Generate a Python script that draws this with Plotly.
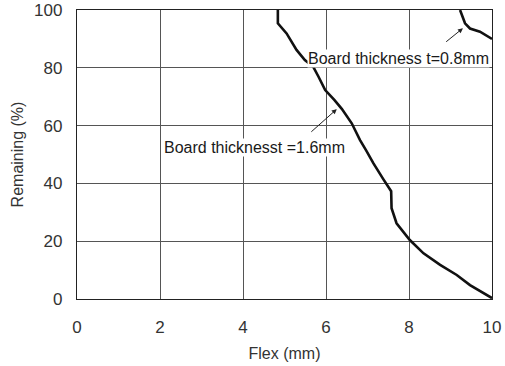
import plotly.graph_objects as go

# Board thickness 1.6 mm curve
flex_16 = [4.84, 4.84, 5.05, 5.29, 5.49, 5.69, 5.82, 5.98, 6.20, 6.38, 6.62, 6.82,
           6.96, 7.14, 7.38, 7.57, 7.58, 7.70, 8.02, 8.35, 8.75, 9.15, 9.47, 10.0]
remain_16 = [100, 95.4, 91.9, 86.2, 82.7, 80.4, 76.9, 72.3, 68.9, 65.8, 60.8, 55.0,
             51.6, 47.0, 41.5, 37.3, 31.4, 26.2, 20.4, 15.8, 11.8, 8.3, 4.8, 0.3]

# Board thickness 0.8 mm curve
flex_08 = [9.23, 9.35, 9.47, 9.71, 10.0]
remain_08 = [100, 95.4, 93.6, 92.5, 90.0]

x_ticks = [0, 2, 4, 6, 8, 10]
y_ticks = [0, 20, 40, 60, 80, 100]

label_16 = "Board thicknesst =1.6mm"
label_08 = "Board thickness t=0.8mm"

FONT = "Arial, Liberation Sans, Helvetica, sans-serif"

fig = go.Figure()
fig.add_trace(go.Scatter(x=flex_16, y=remain_16, mode="lines",
                         line=dict(color="#111111", width=2.6), showlegend=False))
fig.add_trace(go.Scatter(x=flex_08, y=remain_08, mode="lines",
                         line=dict(color="#111111", width=2.6), showlegend=False))

# text labels (white background hides grid lines)
fig.add_annotation(x=7.74, y=83.3, xref="x", yref="y", text=label_08, showarrow=False,
                   bgcolor="white", borderpad=0,
                   font=dict(family=FONT, size=16, color="#1a1a1a"))
fig.add_annotation(x=4.28, y=52.3, xref="x", yref="y", text=label_16, showarrow=False,
                   bgcolor="white", borderpad=0,
                   font=dict(family=FONT, size=16, color="#1a1a1a"))

# arrows
fig.add_annotation(x=9.30, y=93.7, ax=8.86, ay=88.6, xref="x", yref="y",
                   axref="x", ayref="y", text="", showarrow=True,
                   arrowhead=2, arrowsize=1, arrowwidth=1, arrowcolor="#222222")
fig.add_annotation(x=6.26, y=65.7, ax=5.61, ay=57.4, xref="x", yref="y",
                   axref="x", ayref="y", text="", showarrow=True,
                   arrowhead=2, arrowsize=1, arrowwidth=1, arrowcolor="#222222")

axis_common = dict(showline=True, linecolor="#222222", linewidth=1.3, mirror=True,
                   showgrid=True, gridcolor="#555555", gridwidth=1.2,
                   zeroline=False, ticks="", automargin=False,
                   tickfont=dict(family=FONT, size=17, color="#333333"))

fig.update_xaxes(range=[0, 10], tickvals=x_ticks, ticktext=[str(v) for v in x_ticks],
                 title=dict(text="Flex (mm)", font=dict(family=FONT, size=16, color="#333333"),
                            standoff=12),
                 ticklabelstandoff=12, **axis_common)
fig.update_yaxes(range=[0, 100], tickvals=y_ticks, ticktext=[str(v) for v in y_ticks],
                 title=dict(text="Remaining (%)", font=dict(family=FONT, size=16, color="#333333"),
                            standoff=6),
                 ticklabelstandoff=10, **axis_common)

fig.update_layout(width=505, height=366, plot_bgcolor="white", paper_bgcolor="white",
                  margin=dict(l=77, r=13, t=10, b=67), showlegend=False)

fig.write_html("out.html", config={"displayModeBar": False},
               post_script="document.body.style.margin='0';")
